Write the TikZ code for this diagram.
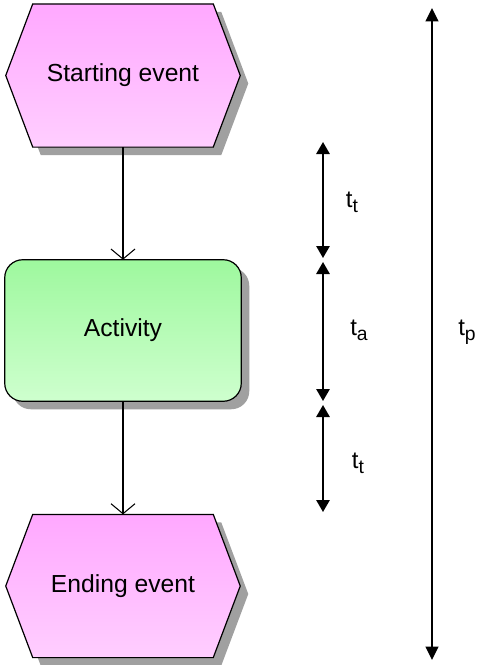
\documentclass[tikz,border=0pt]{standalone}
\usepackage{fontspec}
\setmainfont{Liberation Sans}
\usetikzlibrary{arrows.meta,calc,backgrounds}
\definecolor{pinkTop}{RGB}{255,168,255}
\definecolor{pinkBot}{RGB}{255,206,255}
\definecolor{greenTop}{RGB}{158,248,158}
\definecolor{greenBot}{RGB}{206,255,206}
\definecolor{shadowgray}{RGB}{160,160,160}
\begin{document}
\begin{tikzpicture}[x=0.75pt,y=-0.75pt,
  evbox/.style={minimum width=175.5pt, minimum height=107pt, inner sep=0pt, font=\fontsize{18.5}{22}\selectfont},
  actbox/.style={minimum width=177pt, minimum height=105.75pt, inner sep=0pt, font=\fontsize{18.5}{22}\selectfont},
  evfill/.style={top color=pinkTop, bottom color=pinkBot},
  actfill/.style={top color=greenTop, bottom color=greenBot},
  outline/.style={draw=black, line width=0.9pt},
  shadowfill/.style={fill=shadowgray},
  conn/.style={draw, line width=1.1pt, -{Straight Barb[length=7.5pt, width=18pt, line width=0.8pt]}},
  dim/.style={line width=1.4pt, {Triangle[length=9pt,width=10pt]}-{Triangle[length=9pt,width=10pt]}},
  bigdim/.style={line width=1.2pt, {Triangle[length=10pt,width=9.5pt]}-{Triangle[length=10pt,width=9.5pt]}},
  lab/.style={font=\fontsize{18}{20}\selectfont, inner sep=0pt}
]
\useasboundingbox (0,0) rectangle (478,665);

\newcommand{\hexpath}[1]{(#1.west) -- ($(#1.north west)+(27,0)$) -- ($(#1.north east)+(-27,0)$) -- (#1.east) -- ($(#1.south east)+(-27,0)$) -- ($(#1.south west)+(27,0)$) -- cycle}
\newcommand{\tsub}[1]{t\raisebox{-3.5pt}{\fontsize{14.5}{15}\selectfont #1}}

\node[evbox] (start) at (123,75.5) {Starting event};
\node[actbox] (act) at (123,330.5) {Activity};
\node[evbox] (end) at (123,586) {Ending event};

\begin{scope}[on background layer]
  \begin{scope}[transform canvas={xshift=6pt, yshift=-6pt}]
    \fill[shadowfill] \hexpath{start};
    \fill[shadowfill, rounded corners=13.5pt] (act.north west) rectangle (act.south east);
    \fill[shadowfill] \hexpath{end};
  \end{scope}
  \path[evfill, outline] \hexpath{start};
  \path[actfill, outline, rounded corners=13.5pt] (act.north west) rectangle (act.south east);
  \path[evfill, outline] \hexpath{end};
\end{scope}

\draw[conn] (start) -- (act);
\draw[conn] (act) -- (end);

\coordinate (d0) at (323,142);
\coordinate (d1) at (323,258);
\coordinate (d2) at (323,262);
\coordinate (d3) at (323,401);
\coordinate (d4) at (323,405);
\coordinate (d5) at (323,512);
\draw[dim] (d0) -- (d1);
\draw[dim] (d2) -- (d3);
\draw[dim] (d4) -- (d5);

\coordinate (p0) at (432,8);
\coordinate (p1) at (432,660);
\draw[bigdim] (p0) -- (p1);

\node[lab] (lt1) at (352,202) {\tsub{t}};
\node[lab] (lta) at (359,330) {\tsub{a}};
\node[lab] (lt2) at (358,463) {\tsub{t}};
\node[lab] (ltp) at (467,332) {\tsub{p}};
\end{tikzpicture}
\end{document}
